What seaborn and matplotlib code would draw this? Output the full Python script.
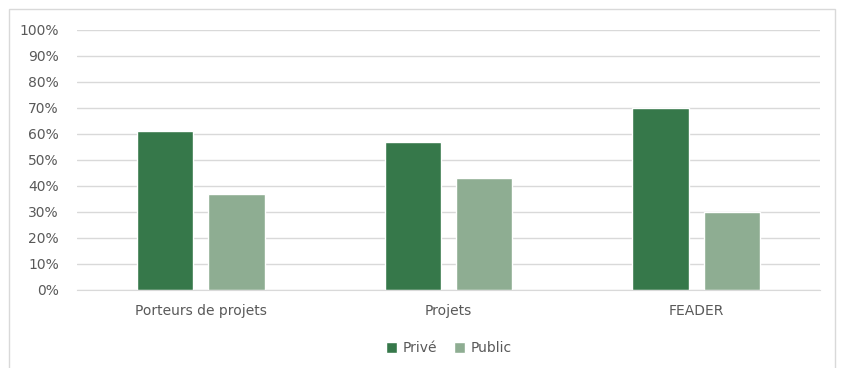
import pandas as pd
import matplotlib.pyplot as plt
import seaborn as sns
from matplotlib.ticker import PercentFormatter, MultipleLocator
from matplotlib.patches import Rectangle

# Données
categories = ["Porteurs de projets", "Projets", "FEADER"]
prive = [61, 57, 70]
public = [37, 43, 30]
series = ["Privé", "Public"]
couleurs = ["#36784A", "#8EAD92"]

df = pd.DataFrame({
    "categorie": categories * 2,
    "type": [series[0]] * 3 + [series[1]] * 3,
    "valeur": prive + public,
})

sns.set_style("white")
plt.rcParams["font.family"] = ["DejaVu Sans"]
texte = "#595959"

fig = plt.figure(figsize=(8.41, 3.68), dpi=100)
ax = fig.add_axes([0.0916, 0.212, 0.8834, 0.7065])

sns.barplot(data=df, x="categorie", y="valeur", hue="type",
            palette=couleurs, saturation=1, width=0.577, gap=0.21,
            ax=ax, legend=True)

ax.set_ylim(0, 100)
ax.yaxis.set_major_locator(MultipleLocator(10))
ax.yaxis.set_major_formatter(PercentFormatter(decimals=0))
ax.grid(axis="y", color="#D9D9D9", linewidth=1)
ax.set_axisbelow(True)
for s in ["top", "right", "left"]:
    ax.spines[s].set_visible(False)
ax.spines["bottom"].set_color("#D9D9D9")
ax.set_xlabel("")
ax.set_ylabel("")
ax.tick_params(axis="both", length=0, labelsize=10, labelcolor=texte)
ax.tick_params(axis="x", pad=10)
ax.tick_params(axis="y", pad=13)

leg = ax.legend(loc="upper center", bbox_to_anchor=(0.5, -0.15), ncol=2,
                frameon=False, fontsize=10, handlelength=0.8, handleheight=0.8,
                columnspacing=1.2, handletextpad=0.4)
for t in leg.get_texts():
    t.set_color(texte)

# cadre autour du graphique
fig.patches.append(Rectangle((9 / 841, -0.01), 826 / 841, 1 - 9 / 368 + 0.01,
                             transform=fig.transFigure, fill=False,
                             edgecolor="#D9D9D9", linewidth=1))

fig.savefig("out.png", dpi=100)
